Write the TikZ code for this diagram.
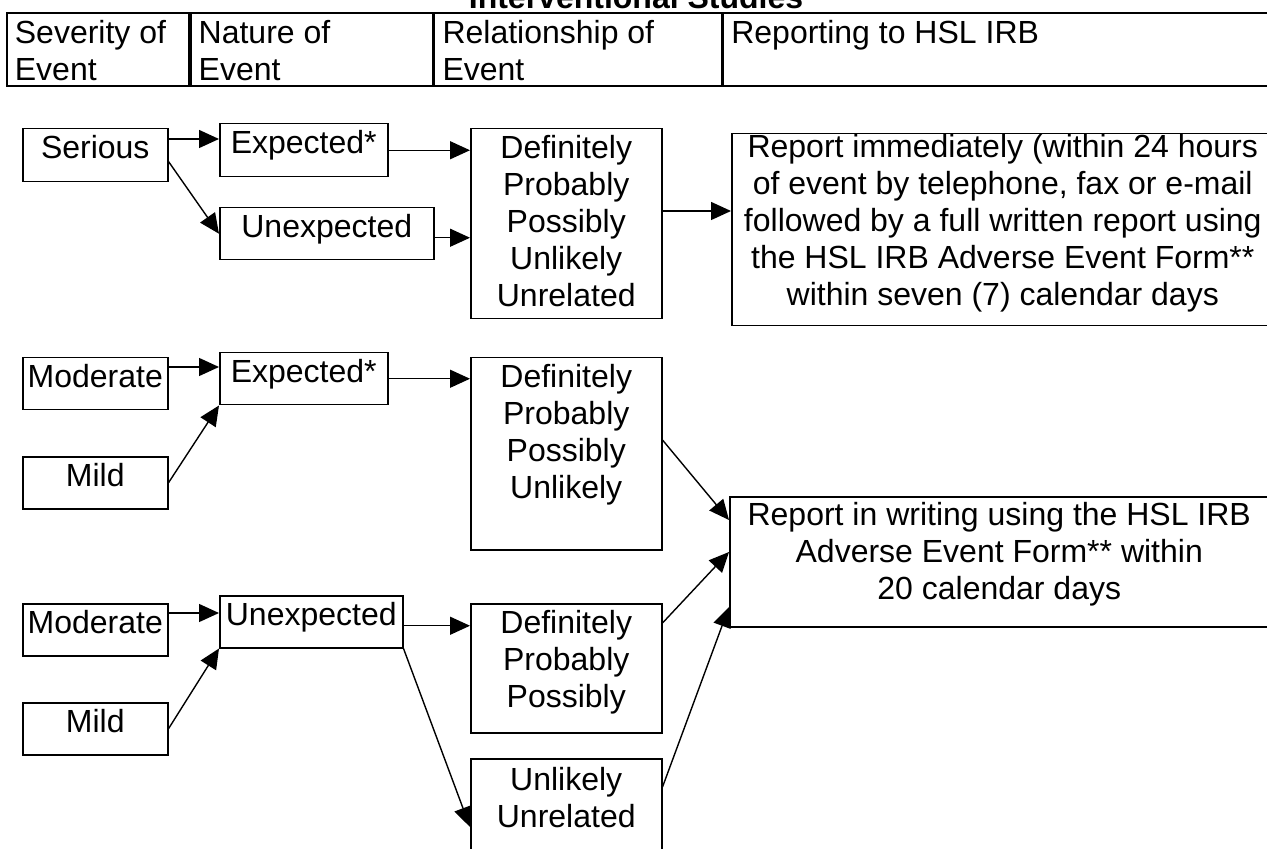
\documentclass[tikz,border=0pt]{standalone}
\usepackage{fontspec}
\setmainfont{Liberation Sans}
\usetikzlibrary{arrows.meta, calc}
\tikzset{
  evbox/.style={draw, line width=0.75pt, inner sep=0pt, anchor=north west},
  headcell/.style={draw, line width=0.9pt, inner sep=0pt, anchor=north west},
  link/.style={-{Triangle[length=10pt, width=9pt]}, line width=0.7pt}
}
% box text: [first-line height]{width}{height}{lines}
\newcommand{\boxtext}[4][15pt]{\parbox[c][#3][t]{#2}{\centering\rule{0pt}{#1}#4\par}}
\newcommand{\headtext}[3]{\parbox[c][#2][t]{#1}{\raggedright\leftskip=4pt\rule{0pt}{15.5pt}#3\par}}

\begin{document}
\begin{tikzpicture}[x=0.5pt, y=-0.5pt, font=\fontsize{16}{18.5}\selectfont]
    \useasboundingbox (0,0) rectangle (1267,849);

    % Title and header row
    \node[anchor=base, font=\fontsize{16}{18.5}\selectfont\bfseries] (title) at (636,9) {Interventional Studies};
    \node[headcell] (hsev) at (6,12) {\headtext{91pt}{36.5pt}{Severity of\\Event}};
    \node[headcell] (hnat) at (hsev.north east) {\headtext{121pt}{36.5pt}{Nature of\\Event}};
    \node[headcell] (hrel) at (hnat.north east) {\headtext{143.5pt}{36.5pt}{Relationship of\\Event}};
    \node[headcell] (hrep) at (hrel.north east) {\headtext{273pt}{36.5pt}{Reporting to HSL IRB}};

    % Serious events
    \node[evbox] (serious) at (22,128) {\boxtext{72.5pt}{26.5pt}{Serious}};
    \node[evbox] (exp1)    at (219,123) {\boxtext{84pt}{26.5pt}{Expected*}};
    \node[evbox] (unexp1)  at (219,207) {\boxtext{107pt}{26pt}{Unexpected}};
    \node[evbox] (rel1)    at (470,128) {\boxtext{95.5pt}{95pt}{Definitely\\Probably\\Possibly\\Unlikely\\Unrelated}};
    \node[evbox] (rep1)    at (731,133) {\boxtext[12pt]{271pt}{96pt}{Report immediately (within 24 hours\\of event by telephone, fax or e-mail\\followed by a full written report using\\the HSL IRB Adverse Event Form**\\within seven (7) calendar days}};

    % Moderate / mild, expected
    \node[evbox] (mod1)  at (22,357)  {\boxtext{72.5pt}{26pt}{Moderate}};
    \node[evbox] (mild1) at (22,456)  {\boxtext{72.5pt}{26pt}{Mild}};
    \node[evbox] (exp2)  at (219,352) {\boxtext{84pt}{26pt}{Expected*}};
    \node[evbox] (rel2)  at (470,357) {\boxtext{95.5pt}{96pt}{Definitely\\Probably\\Possibly\\Unlikely}};
    \node[evbox] (rep2)  at (729,496) {\boxtext[14.5pt]{269.5pt}{65pt}{Report in writing using the HSL IRB\\Adverse Event Form** within\\20 calendar days}};

    % Moderate / mild, unexpected
    \node[evbox] (mod2)   at (22,603)  {\boxtext{72.5pt}{26pt}{Moderate}};
    \node[evbox] (mild2)  at (22,702)  {\boxtext{72.5pt}{26pt}{Mild}};
    \node[evbox] (unexp2) at (219,595) {\boxtext{91.5pt}{26pt}{Unexpected}};
    \node[evbox] (rel3)   at (470,603) {\boxtext{95.5pt}{64.5pt}{Definitely\\Probably\\Possibly}};
    \node[evbox] (rel4)   at (470,758) {\boxtext[16pt]{95.5pt}{47pt}{Unlikely\\Unrelated}};

    % Links
    \coordinate (s1) at ([yshift=-5.5pt]serious.north east);
    \draw[link] (s1) -- (s1 -| exp1.west);
    \draw[link] ([yshift=10.5pt]serious.south east) -- (unexp1.west);
    \draw[link] (exp1.east) -- (exp1.east -| rel1.west);
    \coordinate (u1) at ([yshift=-2pt]unexp1.east);
    \draw[link] (u1) -- (u1 -| rel1.west);
    \coordinate (r1) at ([yshift=-41.5pt]rel1.north east);
    \draw[link] (r1) -- (r1 -| rep1.west);

    \coordinate (m1) at ([yshift=-5pt]mod1.north east);
    \draw[link] (m1) -- (m1 -| exp2.west);
    \draw[link] (mild1.east) -- (exp2.south west);
    \draw[link] (exp2.east) -- (exp2.east -| rel2.west);
    \draw[link] ([yshift=-41.5pt]rel2.north east) -- ([yshift=-12pt]rep2.north west);

    \coordinate (m2) at ([yshift=-5pt]mod2.north east);
    \draw[link] (m2) -- (m2 -| unexp2.west);
    \draw[link] (mild2.east) -- (unexp2.south west);
    \coordinate (u2) at ([yshift=-2pt]unexp2.east);
    \draw[link] (u2) -- (u2 -| rel3.west);
    \draw[link] (unexp2.south east) -- ([yshift=-34.5pt]rel4.north west);
    \draw[link] ([yshift=-10pt]rel3.north east) -- ([yshift=-28pt]rep2.north west);
    \draw[link] ([yshift=-14.5pt]rel4.north east) -- ([yshift=-55.5pt]rep2.north west);
\end{tikzpicture}
\end{document}
